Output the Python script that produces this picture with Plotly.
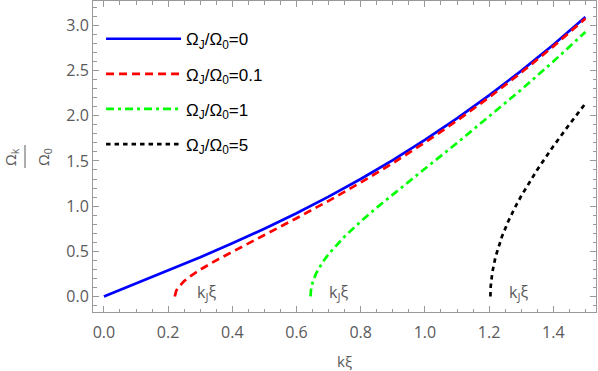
import plotly.graph_objects as go

# values (k xi  ->  Omega_k / Omega_0)
k_j0 = [0.0, 0.1, 0.2, 0.3, 0.4, 0.5, 0.6, 0.7, 0.8, 0.9, 1.0, 1.1, 1.2, 1.3, 1.4, 1.5]
w_j0 = [0.0, 0.1418, 0.2857, 0.4337, 0.5879, 0.75, 0.9217, 1.1046, 1.2998, 1.5087,
        1.7321, 1.9708, 2.2257, 2.4972, 2.7860, 3.0923]

k_j01 = [0.2209, 0.222, 0.225, 0.23, 0.24, 0.25, 0.27, 0.3, 0.35, 0.4, 0.5, 0.6, 0.7,
         0.8, 0.9, 1.0, 1.1, 1.2, 1.3, 1.4, 1.5]
w_j01 = [0.0, 0.0315, 0.0617, 0.0927, 0.1361, 0.1700, 0.2261, 0.2968, 0.4000, 0.4956,
         0.6801, 0.8658, 1.0583, 1.2608, 1.4752, 1.7029, 1.9453, 2.2031, 2.4771,
         2.7680, 3.0761]

k_j1 = [0.6436, 0.645, 0.65, 0.66, 0.68, 0.7, 0.75, 0.8, 0.85, 0.9, 1.0, 1.1, 1.2,
        1.3, 1.4, 1.5]
w_j1 = [0.0, 0.0716, 0.1533, 0.2469, 0.3723, 0.4691, 0.6644, 0.8304, 0.9834, 1.1297,
        1.4142, 1.6983, 1.9884, 2.2883, 2.6003, 2.9262]

k_j5 = [1.2040, 1.205, 1.21, 1.22, 1.24, 1.26, 1.28, 1.3, 1.35, 1.4, 1.45, 1.5]
w_j5 = [0.0, 0.1115, 0.2679, 0.4383, 0.6629, 0.8341, 0.9804, 1.1118, 1.4023, 1.6618,
        1.9041, 2.1360]

names = ["Ω<sub>J</sub>/Ω<sub>0</sub>=0", "Ω<sub>J</sub>/Ω<sub>0</sub>=0.1",
         "Ω<sub>J</sub>/Ω<sub>0</sub>=1", "Ω<sub>J</sub>/Ω<sub>0</sub>=5"]
label_x = [0.32, 0.73, 1.29]
label_y = [0.04, 0.04, 0.04]

series = [(k_j0, w_j0, "#0000ff", "solid"),
          (k_j01, w_j01, "#ff0000", "8px,5px"),
          (k_j1, w_j1, "#00ff00", "8px,4px,3px,4px"),
          (k_j5, w_j5, "#000000", "4.5px,4px")]

fig = go.Figure()
for i, (kx, wy, col, dash) in enumerate(series):
    fig.add_trace(go.Scatter(x=kx, y=wy, mode="lines", name=names[i],
                             legendgroup="g%d" % i,
                             line=dict(color=col, width=2.7, dash=dash)))

gray = "#999999"
txtgray = "#5a5a5a"
tickfont = dict(family="Open Sans", size=16, color=txtgray)

axis_common = dict(showgrid=False, zeroline=False, showline=True, linecolor=gray,
                   linewidth=1, mirror="allticks", ticks="inside", ticklen=6,
                   tickcolor=gray, tickfont=tickfont, automargin=False)

fig.update_layout(
    width=598, height=371,
    margin=dict(l=93, r=2, t=1, b=59),
    paper_bgcolor="white", plot_bgcolor="white",
    showlegend=True,
    legend=dict(x=0.016, y=0.935, xanchor="left", yanchor="top",
                bgcolor="rgba(0,0,0,0)", itemwidth=75,
                traceorder="grouped", tracegroupgap=10,
                font=dict(family="Liberation Sans", size=17, color="black")),
    xaxis=dict(range=[-0.034, 1.533], tickvals=[0, 0.2, 0.4, 0.6, 0.8, 1.0, 1.2, 1.4],
               ticktext=["0.0", "0.2", "0.4", "0.6", "0.8", "1.0", "1.2", "1.4"],
               ticklabelstandoff=6,
               minor=dict(dtick=0.05, tick0=0, ticks="inside", ticklen=3.5,
                          tickcolor=gray),
               **axis_common),
    yaxis=dict(range=[-0.172, 3.27], tickvals=[0, 0.5, 1.0, 1.5, 2.0, 2.5, 3.0],
               ticktext=["0.0", "0.5", "1.0", "1.5", "2.0", "2.5", "3.0"],
               minor=dict(dtick=0.1, tick0=0, ticks="inside", ticklen=3.5,
                          tickcolor=gray),
               **axis_common),
)

# k_J xi markers
for lx, ly in zip(label_x, label_y):
    fig.add_annotation(x=lx, y=ly, text="k<sub>J</sub>ξ", showarrow=False,
                       font=dict(family="Open Sans", size=16, color=txtgray))

# pixel -> paper helpers for the frame labels
def px_x(p):
    return (p - 93) / 503.0

def px_y(p):
    return 1 - (p - 1) / 311.0

fig.add_annotation(xref="paper", yref="paper", x=px_x(344), y=px_y(361),
                   xanchor="center", yanchor="middle", text="kξ", showarrow=False,
                   font=dict(family="Open Sans", size=15, color=txtgray))

# rotated fraction for the y label
fig.add_annotation(xref="paper", yref="paper", x=px_x(11), y=px_y(157),
                   xanchor="center", yanchor="middle",
                   text="Ω<sub>k</sub>", textangle=-90, showarrow=False,
                   font=dict(family="Open Sans", size=15, color=txtgray))
fig.add_annotation(xref="paper", yref="paper", x=px_x(44), y=px_y(157),
                   xanchor="center", yanchor="middle",
                   text="Ω<sub>0</sub>", textangle=-90, showarrow=False,
                   font=dict(family="Open Sans", size=15, color=txtgray))
fig.add_shape(type="line", xref="paper", yref="paper",
              x0=px_x(25), x1=px_x(25), y0=px_y(145), y1=px_y(168),
              line=dict(color=txtgray, width=1))

fig.write_html("out.html", config={"displayModeBar": False},
               post_script="document.body.style.margin='0px';")
